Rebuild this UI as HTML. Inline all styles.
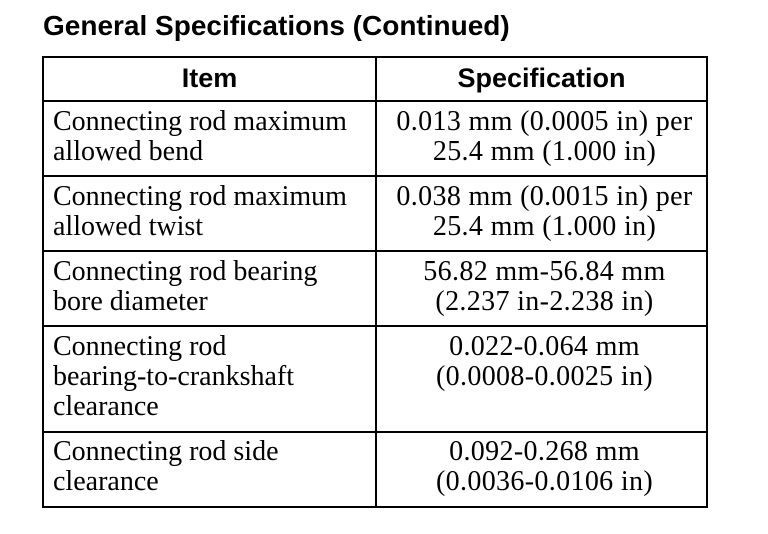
<!DOCTYPE html>
<html>
<head>
<meta charset="utf-8">
<style>
  html, body { margin:0; padding:0; background:#fff; }
  body { width:768px; height:534px; position:relative; overflow:hidden; }
  .h { position:absolute; background:#000; height:2px; }
  .v { position:absolute; background:#000; width:2px; }
  .title { position:absolute; left:43px; top:12px; font-family:"Liberation Sans", Arial, sans-serif; font-weight:bold; font-size:28px; line-height:28px; white-space:nowrap; color:#000; }
  .hd { position:absolute; top:65px; font-family:"Liberation Sans", Arial, sans-serif; font-weight:bold; font-size:27px; line-height:27px; white-space:nowrap; text-align:center; color:#000; }
  .t { position:absolute; font-family:"Liberation Serif", "Times New Roman", serif; font-size:28px; line-height:30px; white-space:nowrap; color:#000; }
  .l { left:53px; }
  .r { left:380px; width:329px; text-align:center; letter-spacing:0.35px; }
</style>
</head>
<body>
<div class="title">General Specifications (Continued)</div>

<!-- horizontal lines -->
<div class="h" style="left:42px; width:666px; top:56px;"></div>
<div class="h" style="left:42px; width:666px; top:100px;"></div>
<div class="h" style="left:42px; width:666px; top:175px;"></div>
<div class="h" style="left:42px; width:666px; top:250px;"></div>
<div class="h" style="left:42px; width:666px; top:325px;"></div>
<div class="h" style="left:42px; width:666px; top:431px;"></div>
<div class="h" style="left:42px; width:666px; top:506px;"></div>
<!-- vertical lines -->
<div class="v" style="left:42px; top:56px; height:452px;"></div>
<div class="v" style="left:375px; top:56px; height:452px;"></div>
<div class="v" style="left:706px; top:56px; height:452px;"></div>

<div class="hd" style="left:44px; width:331px;">Item</div>
<div class="hd" style="left:377px; width:329px;">Specification</div>

<div class="t l" style="top:106.5px;">Connecting rod maximum<br>allowed bend</div>
<div class="t r" style="top:106.5px;">0.013 mm (0.0005 in) per<br>25.4 mm (1.000 in)</div>

<div class="t l" style="top:181.5px;">Connecting rod maximum<br>allowed twist</div>
<div class="t r" style="top:181.5px;">0.038 mm (0.0015 in) per<br>25.4 mm (1.000 in)</div>

<div class="t l" style="top:256.5px;">Connecting rod bearing<br>bore diameter</div>
<div class="t r" style="top:256.5px;">56.82 mm-56.84 mm<br>(2.237 in-2.238 in)</div>

<div class="t l" style="top:331.5px;">Connecting rod<br>bearing-to-crankshaft<br>clearance</div>
<div class="t r" style="top:331.5px;">0.022-0.064 mm<br>(0.0008-0.0025 in)</div>

<div class="t l" style="top:437px;">Connecting rod side<br>clearance</div>
<div class="t r" style="top:437px;">0.092-0.268 mm<br>(0.0036-0.0106 in)</div>
</body>
</html>
